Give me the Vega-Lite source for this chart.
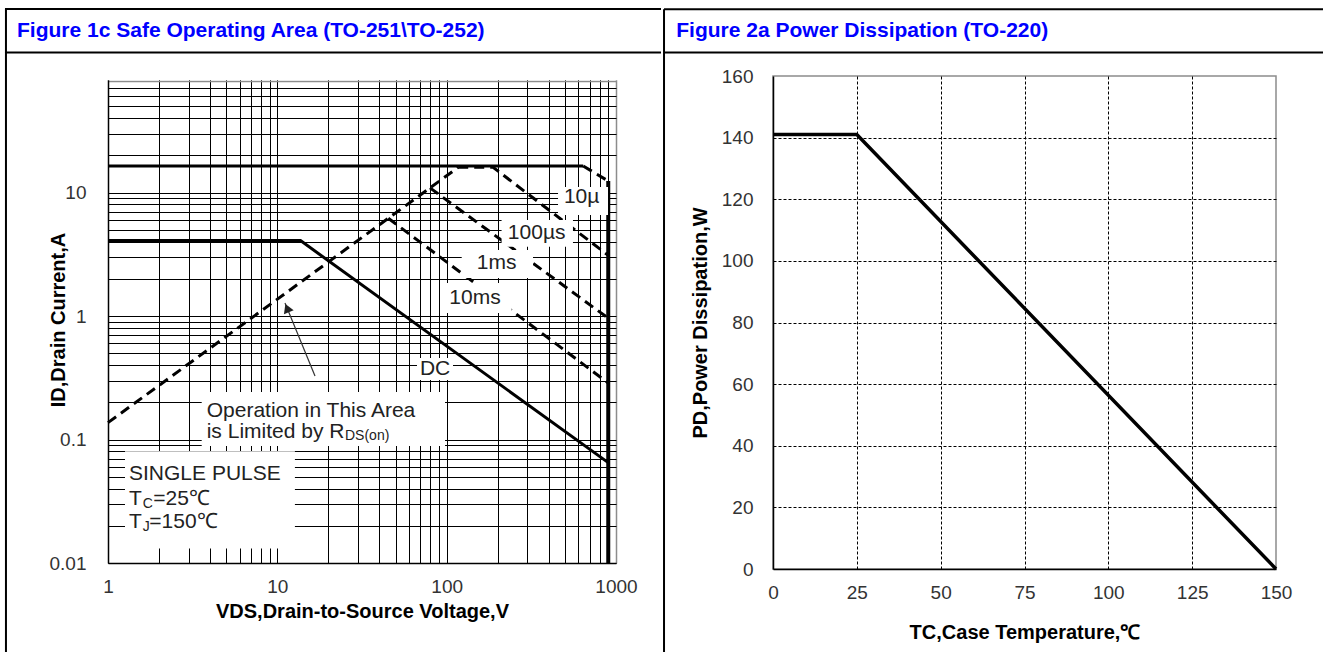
{
  "$schema": "https://vega.github.io/schema/vega-lite/v6.json",
  "background": "white",
  "padding": {"left": 3, "top": 7, "right": 0, "bottom": 0},
  "spacing": -1,
  "bounds": "full",
  "config": {
    "font": "Liberation Sans",
    "view": {"stroke": "#8c8c8c", "strokeWidth": 1.5},
    "axis": {
      "labelFont": "Liberation Sans", "labelFontSize": 19, "labelColor": "#333333",
      "titleFont": "Liberation Sans", "titleFontSize": 20, "titleFontWeight": "bold", "titleColor": "#000000",
      "domainColor": "#000000", "domainWidth": 1.5,
      "ticks": false, "tickSize": 0,
      "gridColor": "#000000", "gridOpacity": 1, "gridWidth": 1,
      "labelFlush": false, "labelOverlap": false, "labelBound": false
    }
  },
  "datasets": {
    "soa": [
      {"curve": "ID max", "i": 0, "x": 1, "y": 16.4},
      {"curve": "ID max", "i": 1, "x": 640, "y": 16.4},
      {"curve": "BVDSS", "i": 0, "x": 900, "y": 12.4},
      {"curve": "BVDSS", "i": 1, "x": 900, "y": 0.01},
      {"curve": "DC", "i": 0, "x": 1, "y": 4.08},
      {"curve": "DC", "i": 1, "x": 13.7, "y": 4.08},
      {"curve": "DC", "i": 2, "x": 900, "y": 0.065},
      {"curve": "RDS(on)", "i": 0, "x": 1, "y": 0.137},
      {"curve": "RDS(on)", "i": 1, "x": 117, "y": 16},
      {"curve": "10µs", "i": 0, "x": 640, "y": 16.4},
      {"curve": "10µs", "i": 1, "x": 900, "y": 12.4},
      {"curve": "100µs", "i": 0, "x": 117, "y": 16},
      {"curve": "100µs", "i": 1, "x": 188, "y": 16},
      {"curve": "100µs", "i": 2, "x": 900, "y": 3.1},
      {"curve": "1ms", "i": 0, "x": 79.7, "y": 10.9},
      {"curve": "1ms", "i": 1, "x": 900, "y": 0.96},
      {"curve": "10ms", "i": 0, "x": 45.2, "y": 6.19},
      {"curve": "10ms", "i": 1, "x": 900, "y": 0.287}
    ],
    "soaBoxes": [
      {"note": "Operation", "x": 3.576, "x2": 97.8, "y": 0.0886, "y2": 0.2424},
      {"note": "DC", "x": 66.8, "x2": 109, "y": 0.303, "y2": 0.457},
      {"note": "SINGLE PULSE", "x": 1.26, "x2": 12.7, "y": 0.0131, "y2": 0.0805},
      {"note": "10µ", "x": 454.6, "x2": 897, "y": 6.57, "y2": 11.08},
      {"note": "100µs", "x": 211, "x2": 557, "y": 3.64, "y2": 5.98},
      {"note": "1ms", "x": 122.7, "x2": 323.5, "y": 2.03, "y2": 3.42},
      {"note": "10ms", "x": 97.8, "x2": 242, "y": 1.06, "y2": 1.85},
      {"note": "above grid", "x": 0.97, "x2": 1030, "y": 81.2, "y2": 87.82}
    ],
    "soaLabels": [
      {"x": 627, "y": 9.25, "label": "10µ"},
      {"x": 340, "y": 4.67, "label": "100µs"},
      {"x": 197.5, "y": 2.67, "label": "1ms"},
      {"x": 147, "y": 1.39, "label": "10ms"},
      {"x": 85.4, "y": 0.3724, "label": "DC"}
    ],
    "soaNotes": [
      {"x": 3.827, "y": 0.1535, "label": "Operation in This Area"},
      {"x": 3.827, "y": 0.1028, "label": "is Limited by R"},
      {"x": 1.331, "y": 0.04699, "label": "SINGLE PULSE"},
      {"x": 1.331, "y": 0.02949, "label": "T"},
      {"x": 1.851, "y": 0.02949, "label": "=25℃"},
      {"x": 1.331, "y": 0.0192, "label": "T"},
      {"x": 1.754, "y": 0.0192, "label": "=150℃"}
    ],
    "soaSubs": [
      {"x": 25.1, "y": 0.0991, "label": "DS(on)"},
      {"x": 1.603, "y": 0.02788, "label": "C"},
      {"x": 1.603, "y": 0.01816, "label": "J"}
    ],
    "arrow": [
      {"i": 0, "x": 16.69, "y": 0.3267},
      {"i": 1, "x": 11.1, "y": 1.274}
    ],
    "arrowHead": [{"x": 11.42, "y": 1.159}],
    "frameHL": [
      {"x": 0.2464, "x2": 1844, "y": 306},
      {"x": 0.2464, "x2": 1844, "y": 136.0}
    ],
    "frameVL": [{"x": 0.2497, "y": 306, "y2": 0.0019}],
    "titleL": [{"x": 0.2902, "y": 182.6, "label": "Figure 1c Safe Operating Area (TO-251\\TO-252)"}],
    "derating": [
      {"x": 0, "y": 141},
      {"x": 25, "y": 141},
      {"x": 150, "y": 0}
    ],
    "frameHR": [
      {"x": -32.5, "x2": 164.3, "y": 181.7},
      {"x": -32.5, "x2": 164.3, "y": 167.6}
    ],
    "frameVR": [{"x": -32.5, "y": 181.7, "y2": -26.9}],
    "titleR": [{"x": -28.84, "y": 172.76, "label": "Figure 2a Power Dissipation (TO-220)"}]
  },
  "hconcat": [
    {
      "vconcat": [
        {
          "width": 508,
          "height": 487,
          "view": {"stroke": null},
          "encoding": {
            "x": {
              "field": "x", "type": "quantitative",
              "scale": {"type": "log", "domain": [1, 1000], "nice": false},
              "axis": {
                "values": [1,2,3,4,5,6,7,8,9,10,20,30,40,50,60,70,80,90,100,200,300,400,500,600,700,800,900,1000],
                "labelExpr": "datum.value == 1 || datum.value == 10 || datum.value == 100 || datum.value == 1000 ? '' + datum.value : ''",
                "labelPadding": 14,
                "title": "VDS,Drain-to-Source Voltage,V",
                "titleY": 54, "titleBaseline": "alphabetic",
                "gridColor": {"condition": {"test": "datum.value >= 1000", "value": "#8c8c8c"}, "value": "#000000"},
                "gridWidth": {"condition": {"test": "datum.value >= 1000", "value": 1.5}, "value": 1}
              }
            },
            "y": {
              "field": "y", "type": "quantitative",
              "scale": {"type": "log", "domain": [0.01, 87.82], "nice": false},
              "axis": {
                "values": [0.01,0.02,0.03,0.04,0.05,0.06,0.07,0.08,0.09,0.1,0.2,0.3,0.4,0.5,0.6,0.7,0.8,0.9,1,2,3,4,5,6,7,8,9,10,20,30,40,50,60,70,80],
                "labelExpr": "datum.value == 0.01 || datum.value == 0.1 || datum.value == 1 || datum.value == 10 ? '' + datum.value : ''",
                "labelPadding": 22,
                "title": "ID,Drain Current,A",
                "titleX": -44, "titleBaseline": "alphabetic",
                "gridColor": {"condition": {"test": "datum.value >= 80", "value": "#8c8c8c"}, "value": "#000000"},
                "gridWidth": {"condition": {"test": "datum.value >= 80", "value": 1.5}, "value": 1}
              }
            }
          },
          "layer": [
            {
              "data": {"name": "soa"},
              "transform": [{"filter": "datum.curve == 'ID max' || datum.curve == 'DC'"}],
              "mark": {"type": "line", "color": "#000000", "strokeWidth": 3},
              "encoding": {"detail": {"field": "curve"}, "order": {"field": "i"}}
            },
            {
              "data": {"name": "soa"},
              "transform": [{"filter": "datum.curve == 'BVDSS'"}],
              "mark": {"type": "line", "color": "#000000", "strokeWidth": 4},
              "encoding": {"detail": {"field": "curve"}, "order": {"field": "i"}}
            },
            {
              "data": {"name": "soa"},
              "transform": [{"filter": "datum.curve != 'ID max' && datum.curve != 'DC' && datum.curve != 'BVDSS'"}],
              "mark": {"type": "line", "color": "#000000", "strokeWidth": 3, "strokeDash": [10, 6], "strokeCap": "butt"},
              "encoding": {"detail": {"field": "curve"}, "order": {"field": "i"}}
            },
            {
              "data": {"name": "soaBoxes"},
              "mark": {"type": "rect", "fill": "#ffffff", "stroke": null},
              "encoding": {"x2": {"field": "x2"}, "y2": {"field": "y2"}}
            },
            {
              "data": {"name": "arrow"},
              "mark": {"type": "line", "color": "#333333", "strokeWidth": 1.2},
              "encoding": {"order": {"field": "i"}}
            },
            {
              "data": {"name": "arrowHead"},
              "mark": {"type": "point", "shape": "triangle-up", "filled": true, "size": 110, "angle": 338, "color": "#222222", "opacity": 1}
            },
            {
              "data": {"name": "soaLabels"},
              "mark": {"type": "text", "font": "Liberation Sans", "fontSize": 21, "color": "#222222", "align": "center", "baseline": "middle"},
              "encoding": {"text": {"field": "label"}}
            },
            {
              "data": {"name": "soaNotes"},
              "mark": {"type": "text", "font": "Liberation Sans", "fontSize": 21, "color": "#222222", "align": "left", "baseline": "alphabetic"},
              "encoding": {"text": {"field": "label"}}
            },
            {
              "data": {"name": "soaSubs"},
              "mark": {"type": "text", "font": "Liberation Sans", "fontSize": 14, "color": "#222222", "align": "left", "baseline": "alphabetic"},
              "encoding": {"text": {"field": "label"}}
            },
            {
              "data": {"name": "frameHL"},
              "mark": {"type": "rule", "color": "#000000", "strokeWidth": 2, "clip": false},
              "encoding": {"x2": {"field": "x2"}}
            },
            {
              "data": {"name": "frameVL"},
              "mark": {"type": "rule", "color": "#000000", "strokeWidth": 2, "clip": false},
              "encoding": {"y2": {"field": "y2"}}
            },
            {
              "data": {"name": "titleL"},
              "mark": {"type": "text", "font": "Liberation Sans", "fontSize": 21, "fontWeight": "bold", "color": "#0000ff", "align": "left", "baseline": "alphabetic", "clip": false},
              "encoding": {"text": {"field": "label"}}
            }
          ]
        }
      ]
    },
    {
      "vconcat": [
        {
          "width": 503,
          "height": 493,
          "encoding": {
            "x": {
              "field": "x", "type": "quantitative",
              "scale": {"domain": [0, 150], "nice": false, "zero": false},
              "axis": {
                "values": [0, 25, 50, 75, 100, 125, 150],
                "labelPadding": 14,
                "title": "TC,Case Temperature,℃",
                "titleY": 69, "titleBaseline": "alphabetic",
                "gridDash": [3, 2],
                "gridOpacity": {"condition": {"test": "datum.value <= 0 || datum.value >= 150", "value": 0}, "value": 1}
              }
            },
            "y": {
              "field": "y", "type": "quantitative",
              "scale": {"domain": [0, 160], "nice": false, "zero": false},
              "axis": {
                "values": [0, 20, 40, 60, 80, 100, 120, 140, 160],
                "labelPadding": 20,
                "title": "PD,Power Dissipation,W",
                "titleX": -67, "titleBaseline": "alphabetic",
                "gridDash": [3, 2],
                "gridOpacity": {"condition": {"test": "datum.value <= 0 || datum.value >= 160", "value": 0}, "value": 1}
              }
            }
          },
          "layer": [
            {
              "data": {"name": "derating"},
              "mark": {"type": "line", "color": "#000000", "strokeWidth": 3.5}
            },
            {
              "data": {"name": "frameHR"},
              "mark": {"type": "rule", "color": "#000000", "strokeWidth": 2, "clip": false},
              "encoding": {"x2": {"field": "x2"}}
            },
            {
              "data": {"name": "frameVR"},
              "mark": {"type": "rule", "color": "#000000", "strokeWidth": 2, "clip": false},
              "encoding": {"y2": {"field": "y2"}}
            },
            {
              "data": {"name": "titleR"},
              "mark": {"type": "text", "font": "Liberation Sans", "fontSize": 21, "fontWeight": "bold", "color": "#0000ff", "align": "left", "baseline": "alphabetic", "clip": false},
              "encoding": {"text": {"field": "label"}}
            }
          ]
        }
      ]
    }
  ]
}
